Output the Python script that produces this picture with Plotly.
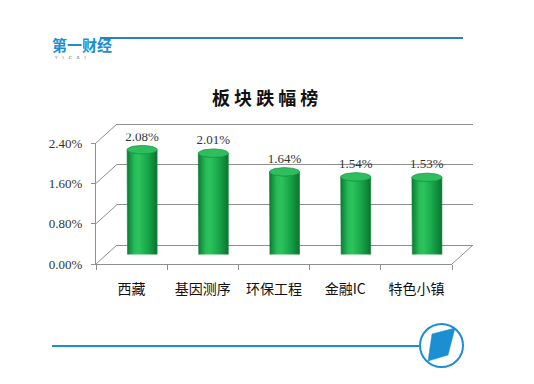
import numpy as np
import plotly.graph_objects as go

# ---- data ----
categories = ["西藏", "基因测序", "环保工程", "金融IC", "特色小镇"]
values = [2.08, 2.01, 1.64, 1.54, 1.53]
value_labels = ["2.08%", "2.01%", "1.64%", "1.54%", "1.53%"]
y_tickvals = [0.0, 0.8, 1.6, 2.4]
y_ticktext = ["0.00%", "0.80%", "1.60%", "2.40%"]
title_text = "板块跌幅榜"

W, H = 534, 384
BLUE = "#1b8fd2"
GRID = "#8f8f8f"

def fx(px):
    return px / W

def fy(py):
    return 1 - py / H

# pixel frames (front plane, back wall, bar mid-depth)
FRONT = dict(x0=96, x1=452, y0=264, y1=143)
DX, DY = 21, -19
BACK = dict(x0=FRONT["x0"] + DX, x1=FRONT["x1"] + DX, y0=FRONT["y0"] + DY, y1=FRONT["y1"] + DY)
MID = dict(x0=FRONT["x0"] + DX / 2, x1=FRONT["x1"] + DX / 2, y0=FRONT["y0"] + DY / 2, y1=FRONT["y1"] + DY / 2)

ymax = 2.4
n = len(categories)
xr = [-0.5, n - 0.5]

def dom(frame):
    return [fx(frame["x0"]), fx(frame["x1"])], [fy(frame["y0"]), fy(frame["y1"])]

fig = go.Figure()

# back wall: pad range slightly so the edge gridlines are drawn
pad = 0.02
ppu_back = (BACK["y0"] - BACK["y1"]) / ymax
BACKP = dict(x0=BACK["x0"], x1=BACK["x1"], y0=BACK["y0"] + pad * ppu_back, y1=BACK["y1"] - pad * ppu_back)
bx, by = dom(BACKP)
fxd, fyd = dom(FRONT)
mx, my = dom(MID)

for k in (1, 2, 3):
    fig.add_trace(go.Scatter(x=[0], y=[0], mode="markers", marker=dict(opacity=0),
                             hoverinfo="skip", showlegend=False,
                             xaxis="x" if k == 1 else f"x{k}", yaxis="y" if k == 1 else f"y{k}"))

# cylinders
px_per_unit_x = (MID["x1"] - MID["x0"]) / n
px_per_unit_y = (MID["y0"] - MID["y1"]) / ymax
w = 15 / px_per_unit_x
e = 4.2 / px_per_unit_y
t = np.linspace(0, np.pi, 40)
for i, v in enumerate(values):
    xs = [i - w, i - w]
    ys = [v, 0]
    tb = t[::-1]
    xs += list(i + w * np.cos(tb))
    ys += list(-e * np.sin(tb))
    xs += [i + w, i + w]
    ys += [0, v]
    xs += list(i + w * np.cos(t))
    ys += list(v - e * np.sin(t))
    fig.add_trace(go.Scatter(
        x=xs, y=ys, mode="lines", fill="toself",
        line=dict(color="#0d7a35", width=0.6),
        fillgradient=dict(type="horizontal",
                          colorscale=[[0, "#0b7a33"], [0.25, "#27bd58"], [0.4, "#2cc25c"],
                                      [0.7, "#17a447"], [1, "#0a7430"]]),
        hoverinfo="skip", showlegend=False, xaxis="x3", yaxis="y3"))
    tt = np.linspace(0, 2 * np.pi, 60)
    fig.add_trace(go.Scatter(
        x=list(i + w * np.cos(tt)), y=list(v + e * np.sin(tt)), mode="lines", fill="toself",
        line=dict(color="#139a43", width=0.8), fillcolor="#2fbd5e",
        hoverinfo="skip", showlegend=False, xaxis="x3", yaxis="y3"))

# value labels
fig.add_trace(go.Scatter(
    x=list(range(n)), y=[v + e * 1.4 for v in values], mode="text", text=value_labels,
    textposition="top center",
    textfont=dict(family="Liberation Serif, DejaVu Serif", size=13, color="#333333"),
    hoverinfo="skip", showlegend=False, xaxis="x3", yaxis="y3"))

axis_hidden = dict(showgrid=False, zeroline=False, showticklabels=False, ticks="", showline=False,
                   automargin=False)

fig.update_layout(
    width=W, height=H,
    margin=dict(l=0, r=0, t=0, b=0, pad=0),
    paper_bgcolor="white", plot_bgcolor="rgba(0,0,0,0)",
    showlegend=False,
    xaxis=dict(domain=bx, range=xr, anchor="y", **axis_hidden),
    yaxis=dict(domain=by, range=[-pad, ymax + pad], anchor="x", showgrid=True, gridcolor=GRID, gridwidth=1,
               tickvals=y_tickvals, showticklabels=False, zeroline=False, ticks="", showline=False,
               automargin=False),
    xaxis2=dict(domain=fxd, range=xr, anchor="y2", showgrid=False, zeroline=False,
                showline=True, linecolor=GRID, linewidth=1, automargin=False,
                tickvals=list(range(n)), ticktext=categories, ticks="", ticklabelstandoff=12,
                tickfont=dict(family="Noto Sans CJK SC", size=14, color="#111111"),
                minor=dict(tickvals=[k - 0.5 for k in range(n + 1)], ticks="outside",
                           ticklen=5, tickcolor=GRID)),
    yaxis2=dict(domain=fyd, range=[0, ymax], anchor="x2", showgrid=False, zeroline=False,
                showline=True, linecolor=GRID, linewidth=1, automargin=False,
                tickvals=y_tickvals, ticktext=y_ticktext, ticks="outside", ticklen=4, tickcolor=GRID,
                ticklabelstandoff=6,
                tickfont=dict(family="Liberation Serif, DejaVu Serif", size=13, color="#333333")),
    xaxis3=dict(domain=mx, range=xr, anchor="y3", **axis_hidden),
    yaxis3=dict(domain=my, range=[0, ymax], anchor="x3", **axis_hidden),
)

shapes = []
for v in y_tickvals:
    yf = FRONT["y0"] - v / ymax * (FRONT["y0"] - FRONT["y1"])
    shapes.append(dict(type="line", xref="paper", yref="paper",
                       x0=fx(FRONT["x0"]), y0=fy(yf), x1=fx(BACK["x0"]), y1=fy(yf + DY),
                       line=dict(color=GRID, width=1)))
shapes.append(dict(type="line", xref="paper", yref="paper",
                   x0=fx(FRONT["x1"]), y0=fy(FRONT["y0"]), x1=fx(BACK["x1"]), y1=fy(BACK["y0"]),
                   line=dict(color=GRID, width=1)))
shapes.append(dict(type="line", xref="paper", yref="paper", x0=fx(100), x1=fx(463), y0=fy(38), y1=fy(38),
                   line=dict(color="#2a7fc0", width=2)))
shapes.append(dict(type="line", xref="paper", yref="paper", x0=fx(52), x1=fx(419), y0=fy(346), y1=fy(346),
                   line=dict(color=BLUE, width=2.2)))
shapes.append(dict(type="circle", xref="paper", yref="paper", x0=fx(420), x1=fx(463), y0=fy(324), y1=fy(367),
                   line=dict(color=BLUE, width=2), fillcolor="white"))
pts = [(432, 334), (455, 328), (448, 355), (428, 361)]
path = "M " + " L ".join(f"{fx(a):.4f},{fy(b):.4f}" for a, b in pts) + " Z"
shapes.append(dict(type="path", xref="paper", yref="paper", path=path, fillcolor=BLUE,
                   line=dict(color=BLUE, width=0.5)))
fig.update_layout(shapes=shapes)

annotations = [
    dict(text="<b>" + " ".join(title_text) + "</b>", x=fx(265), y=fy(97), xref="paper", yref="paper",
         showarrow=False, font=dict(family="Noto Sans CJK SC", size=18, color="#111111"),
         xanchor="center", yanchor="middle"),
    dict(text="<b>第一财经</b>", x=fx(50), y=fy(44), xref="paper", yref="paper", showarrow=False,
         font=dict(family="Noto Sans CJK SC", size=15, color=BLUE), xanchor="left", yanchor="middle"),
    dict(text="Y    I    C    A    I", x=fx(52), y=fy(58), xref="paper", yref="paper", showarrow=False,
         font=dict(family="DejaVu Sans", size=4, color="#555555"), xanchor="left", yanchor="middle"),
]
fig.update_layout(annotations=annotations)

fig.write_html("out.html", config={"displayModeBar": False},
               post_script="document.body.style.margin='0';document.body.style.overflow='hidden';")
